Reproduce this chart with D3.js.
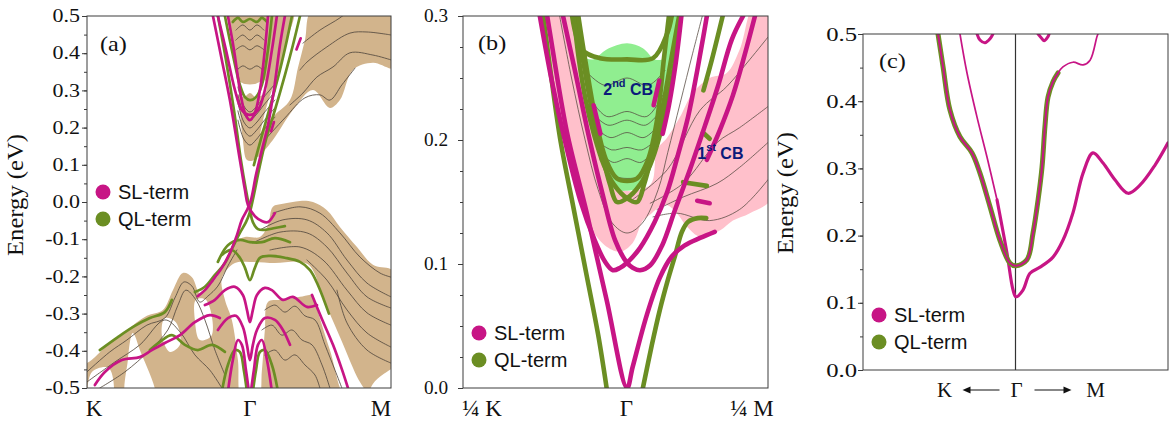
<!DOCTYPE html>
<html>
<head>
<meta charset="utf-8">
<script src="https://cdn.jsdelivr.net/npm/d3@7"></script>
<style>
  html, body { margin: 0; padding: 0; background: #ffffff; }
  svg { display: block; }
</style>
</head>
<body>
<svg id="fig" width="1170" height="421"></svg>
<script>
// ================= Panel (a): slab bands along K – Γ – M =================
// k in units of |ΓM|, energies in eV
const kPointsA = [-1.1547, 0, 1];
const kLabelsA = ["K", "Γ", "M"];
const energyTicksA = [-0.5, -0.4, -0.3, -0.2, -0.1, 0.0, 0.1, 0.2, 0.3, 0.4, 0.5];

// projected bulk continua (closed outlines)
const bulkFanA = [[-0.128,0.52],[0.305,0.52],[0.262,0.435],[0.213,0.363],[0.156,0.301],[0.121,0.261],[0.085,0.207],[0.057,0.153],[0.028,0.113],[-0.021,0.113],[-0.05,0.167],[-0.071,0.247],[-0.092,0.328],[-0.113,0.409]];
const bulkCondA = [[0.447,0.52],[1.03,0.52],[1.03,0.36],[0.872,0.374],[0.73,0.355],[0.638,0.274],[0.567,0.253],[0.447,0.301],[0.305,0.247],[0.163,0.167],[0.05,0.121],[0.085,0.194],[0.177,0.234],[0.284,0.274],[0.34,0.36],[0.39,0.435]];
const bulkValA = [[-1.2,-0.433],[-1.156,-0.433],[-0.993,-0.379],[-0.872,-0.344],[-0.73,-0.306],[-0.617,-0.29],[-0.546,-0.237],[-0.475,-0.191],[-0.411,-0.202],[-0.355,-0.245],[-0.305,-0.229],[-0.234,-0.202],[-0.163,-0.148],[-0.106,-0.108],[-0.035,-0.094],[0.071,-0.094],[0.128,-0.062],[0.163,-0.013],[0.234,-0.005],[0.355,0.003],[0.447,0],[0.546,-0.022],[0.638,-0.067],[0.759,-0.121],[0.872,-0.169],[1.03,-0.19],[1.03,-0.55],[-1.2,-0.55]];
// empty pockets inside the continua
const gapsA = [
  [[-0.199,-0.204],[-0.106,-0.164],[0,-0.161],[0.177,-0.164],[0.355,-0.161],[0.426,-0.172],[0.482,-0.237],[0.355,-0.255],[0.213,-0.263],[0.128,-0.269],[0.106,-0.344],[0.085,-0.452],[0.057,-0.53],[-0.057,-0.53],[-0.085,-0.425],[-0.128,-0.317],[-0.177,-0.263]],
  [[0.404,-0.166],[0.482,-0.228],[0.638,-0.363],[0.759,-0.47],[0.84,-0.53],[0.688,-0.53],[0.567,-0.398],[0.44,-0.237]],
  [[1.03,-0.448],[0.95,-0.462],[0.87,-0.49],[0.84,-0.53],[1.03,-0.53]],
  [[-0.83,-0.352],[-0.78,-0.398],[-0.674,-0.53],[-0.872,-0.53],[-0.865,-0.425]],
  [[-0.603,-0.312],[-0.525,-0.323],[-0.496,-0.384],[-0.567,-0.403],[-0.624,-0.358]],
  [[-0.383,-0.263],[-0.312,-0.263],[-0.27,-0.358],[-0.355,-0.371],[-0.39,-0.317]],
  [[-1.12,-0.457],[-1.0,-0.446],[-0.979,-0.53],[-1.135,-0.53]],
  [[-0.106,0.328],[-0.035,0.317],[0.035,0.317],[0.106,0.328],[0.113,0.296],[0.043,0.282],[0,0.293],[-0.043,0.282],[-0.092,0.293]]
];
// bulk-like slab bands
const bulkLinesA = [
  [[0.376,0.427],[0.496,0.462],[0.638,0.495],[0.72,0.52]],
  [[0.355,0.355],[0.404,0.376],[0.546,0.417],[0.709,0.454],[0.83,0.457],[1.0,0.449]],
  [[0.284,0.261],[0.376,0.293],[0.475,0.336],[0.589,0.363],[0.709,0.401],[0.872,0.395],[1.0,0.382]],
  [[0.106,0.167],[0.248,0.226],[0.39,0.28],[0.496,0.288],[0.567,0.274],[0.652,0.315],[0.745,0.36]],
  [[-0.099,0.462],[-0.05,0.476],[0,0.462],[0.05,0.476],[0.099,0.462]],
  [[-0.1,0.435],[-0.05,0.449],[0,0.435],[0.05,0.449],[0.1,0.435]],
  [[-0.1,0.409],[-0.05,0.42],[0,0.409],[0.05,0.42],[0.1,0.409]],
  [[-0.09,0.355],[-0.05,0.366],[0,0.357],[0.05,0.366],[0.09,0.355]],
  [[-0.085,0.309],[-0.043,0.258],[0,0.242],[0.043,0.255],[0.099,0.282],[0.177,0.317]],
  [[-0.085,0.288],[-0.043,0.237],[0,0.22],[0.043,0.234],[0.099,0.261],[0.177,0.296]],
  [[-0.085,0.266],[-0.043,0.215],[0,0.199],[0.043,0.212],[0.099,0.239],[0.177,0.274]],
  [[-0.085,0.245],[-0.043,0.194],[0,0.177],[0.043,0.191],[0.099,0.218],[0.177,0.253]],
  [[-0.085,0.22],[-0.043,0.169],[0,0.153],[0.043,0.167],[0.099,0.194],[0.177,0.228]],
  [[0.163,-0.03],[0.355,-0.013],[0.496,-0.03],[0.638,-0.083],[0.78,-0.148],[0.922,-0.191],[1.0,-0.202]],
  [[0.071,-0.075],[0.234,-0.048],[0.404,-0.048],[0.546,-0.083],[0.688,-0.156],[0.83,-0.218],[1.0,-0.255]],
  [[0.021,-0.11],[0.213,-0.081],[0.404,-0.083],[0.546,-0.121],[0.688,-0.191],[0.83,-0.255],[1.0,-0.285]],
  [[0.142,-0.129],[0.355,-0.121],[0.518,-0.156],[0.688,-0.237],[0.83,-0.298],[1.0,-0.331]],
  [[0.404,-0.156],[0.546,-0.21],[0.688,-0.29],[0.83,-0.352],[1.0,-0.39]],
  [[0.617,-0.237],[0.688,-0.325],[0.83,-0.398],[1.0,-0.433]],
  [[-1.156,-0.457],[-0.993,-0.403],[-0.872,-0.371],[-0.73,-0.331],[-0.603,-0.312],[-0.532,-0.258],[-0.468,-0.215],[-0.411,-0.226],[-0.355,-0.269],[-0.298,-0.253],[-0.227,-0.226],[-0.156,-0.172],[-0.092,-0.129]],
  [[-1.156,-0.484],[-0.957,-0.43],[-0.78,-0.384],[-0.603,-0.317],[-0.496,-0.349],[-0.39,-0.411],[-0.284,-0.452],[-0.199,-0.5]],
  [[-1.064,-0.5],[-0.887,-0.457],[-0.709,-0.398],[-0.582,-0.344],[-0.511,-0.278],[-0.454,-0.237],[-0.383,-0.263],[-0.319,-0.317],[-0.248,-0.398],[-0.177,-0.465]],
  [[0.106,-0.29],[0.177,-0.277],[0.248,-0.296],[0.319,-0.28],[0.39,-0.306],[0.461,-0.317],[0.532,-0.384],[0.603,-0.452],[0.652,-0.5]],
  [[0.085,-0.344],[0.156,-0.331],[0.227,-0.358],[0.298,-0.344],[0.369,-0.371],[0.44,-0.384],[0.511,-0.438],[0.567,-0.5]],
  [[0.106,-0.411],[0.177,-0.398],[0.248,-0.425],[0.319,-0.411],[0.39,-0.438],[0.461,-0.465],[0.496,-0.5]]
];
// bands weighted on the SL termination
const slBandsA = [
  [[-0.262,0.5],[-0.199,0.382],[-0.142,0.274],[-0.071,0.113],[-0.035,0.032],[-0.014,-0.008],[0.035,-0.038],[0.085,-0.051],[0.128,-0.054],[0.177,-0.03]],
  [[0.248,0.5],[0.213,0.422],[0.17,0.301],[0.128,0.207],[0.085,0.14],[0.043,0.073],[0.007,0.005],[-0.021,-0.022],[-0.057,-0.048],[-0.092,-0.089],[-0.142,-0.137],[-0.199,-0.177],[-0.262,-0.21],[-0.319,-0.237],[-0.369,-0.253]],
  [[-0.227,0.5],[-0.17,0.409],[-0.106,0.301],[-0.057,0.247],[0,0.234],[0.057,0.247],[0.106,0.301],[0.156,0.409],[0.191,0.5]],
  [[-0.156,0.5],[-0.113,0.409],[-0.071,0.301],[-0.035,0.239],[0,0.22],[0.035,0.239],[0.071,0.301],[0.106,0.409],[0.128,0.5]],
  [[-0.319,-0.277],[-0.248,-0.263],[-0.177,-0.237],[-0.106,-0.228],[-0.05,-0.25],[-0.021,-0.29],[0,-0.323],[0.021,-0.29],[0.05,-0.25],[0.106,-0.231],[0.156,-0.237],[0.234,-0.263],[0.305,-0.255],[0.404,-0.282],[0.475,-0.277]],
  [[-0.227,-0.344],[-0.156,-0.312],[-0.099,-0.306],[-0.05,-0.336],[-0.021,-0.384],[0,-0.425],[0.021,-0.384],[0.05,-0.344],[0.106,-0.312],[0.177,-0.317],[0.234,-0.344],[0.284,-0.384]],
  [[-0.156,-0.51],[-0.121,-0.425],[-0.085,-0.371],[-0.057,-0.384],[-0.028,-0.452],[-0.007,-0.51]],
  [[0.007,-0.51],[0.028,-0.452],[0.057,-0.384],[0.085,-0.371],[0.121,-0.425],[0.156,-0.51]],
  [[-1.099,-0.492],[-1.028,-0.457],[-0.908,-0.425],[-0.78,-0.417],[-0.695,-0.398],[-0.603,-0.379],[-0.496,-0.358],[-0.39,-0.323],[-0.284,-0.304],[-0.213,-0.312]],
  [[0.44,-0.25],[0.511,-0.315],[0.589,-0.384],[0.652,-0.45],[0.695,-0.5]],
  [[0.33,0.41],[0.36,0.44]],
  [[0.15,0.19],[0.17,0.215]]
];
// bands weighted on the QL termination
const qlBandsA = [
  [[-0.227,0.5],[-0.17,0.382],[-0.113,0.247],[-0.064,0.113],[-0.028,0.032],[0,-0.022],[0.021,-0.054],[0.057,-0.073],[0.106,-0.075],[0.177,-0.07],[0.248,-0.065]],
  [[0.355,0.5],[0.305,0.422],[0.248,0.341],[0.177,0.247],[0.113,0.167],[0.064,0.086],[0.028,0.019],[0,-0.027],[-0.028,-0.054],[-0.071,-0.083],[-0.121,-0.121],[-0.177,-0.164],[-0.248,-0.196],[-0.319,-0.228],[-0.39,-0.242]],
  [[0.298,0.5],[0.262,0.435],[0.213,0.355],[0.156,0.274],[0.106,0.207],[0.057,0.14],[0.028,0.099]],
  [[-0.177,0.5],[-0.128,0.409],[-0.071,0.315],[-0.035,0.282],[0,0.274],[0.043,0.282],[0.085,0.315],[0.128,0.409],[0.156,0.5]],
  [[-0.121,0.484],[-0.085,0.495],[-0.05,0.484],[0,0.492],[0.05,0.484],[0.085,0.495],[0.121,0.484]],
  [[-0.199,-0.142],[-0.128,-0.129],[-0.071,-0.15],[-0.035,-0.177],[0,-0.21],[0.035,-0.177],[0.071,-0.15],[0.142,-0.145],[0.248,-0.15],[0.355,-0.161],[0.426,-0.183],[0.482,-0.223],[0.56,-0.3]],
  [[-0.227,-0.161],[-0.156,-0.116],[-0.071,-0.102],[0,-0.108],[0.085,-0.108],[0.177,-0.097],[0.284,-0.108]],
  [[-1.064,-0.398],[-0.936,-0.363],[-0.816,-0.333],[-0.709,-0.312],[-0.603,-0.296],[-0.553,-0.263]],
  [[-0.709,-0.398],[-0.638,-0.376],[-0.553,-0.358],[-0.461,-0.384],[-0.369,-0.398],[-0.27,-0.384],[-0.177,-0.403]],
  [[-0.199,-0.51],[-0.156,-0.438],[-0.106,-0.398],[-0.071,-0.403],[-0.043,-0.452],[-0.021,-0.51]],
  [[0.021,-0.51],[0.043,-0.452],[0.071,-0.403],[0.106,-0.398],[0.156,-0.438],[0.199,-0.51]]
];

// ================= Panel (b): close-up around Γ =================
const kPointsB = [-0.2887, 0, 0.25];
const kLabelsB = ["¼ K", "Γ", "¼ M"];
const energyTicksB = [0.0, 0.1, 0.2, 0.3];
const secondCBFillB = [[-0.079,0.266],[-0.059,0.265],[-0.035,0.273],[0.001,0.278],[0.029,0.274],[0.05,0.265],[0.066,0.266],[0.077,0.31],[0.091,0.31],[0.08,0.265],[0.07,0.236],[0.059,0.216],[0.047,0.192],[0.036,0.17],[0.024,0.162],[0.001,0.159],[-0.024,0.161],[-0.042,0.18],[-0.056,0.216],[-0.068,0.248],[-0.075,0.26]];
const firstCBFillB = [[-0.147,0.31],[-0.103,0.31],[-0.082,0.265],[-0.065,0.224],[-0.047,0.184],[-0.011,0.16],[0.042,0.164],[0.054,0.192],[0.072,0.202],[0.095,0.219],[0.117,0.238],[0.147,0.25],[0.177,0.254],[0.2,0.273],[0.227,0.31],[0.26,0.31],[0.26,0.155],[0.218,0.141],[0.188,0.135],[0.165,0.127],[0.13,0.122],[0.107,0.13],[0.089,0.141],[0.068,0.148],[0.042,0.14],[0.029,0.135],[0.011,0.117],[-0.011,0.11],[-0.038,0.115],[-0.065,0.131],[-0.091,0.164],[-0.118,0.216],[-0.135,0.256]];
const bulkLinesB = [
  [[-0.073,0.256],[-0.038,0.244],[0.001,0.25],[0.038,0.244],[0.068,0.256]],
  [[-0.068,0.236],[-0.035,0.219],[0.001,0.223],[0.036,0.219],[0.064,0.236]],
  [[-0.065,0.224],[-0.033,0.212],[0.001,0.216],[0.034,0.212],[0.061,0.224]],
  [[-0.059,0.212],[-0.029,0.202],[0.001,0.206],[0.031,0.202],[0.057,0.212]],
  [[-0.054,0.2],[-0.026,0.192],[0.001,0.194],[0.027,0.192],[0.052,0.2]],
  [[-0.05,0.192],[-0.024,0.182],[0.001,0.185],[0.026,0.182],[0.048,0.192]],
  [[-0.047,0.184],[-0.02,0.171],[0.001,0.169],[0.024,0.171],[0.045,0.184]],
  [[-0.118,0.3],[-0.097,0.25],[-0.073,0.2],[-0.05,0.16],[-0.025,0.133],[0.001,0.125],[0.028,0.133],[0.056,0.16],[0.073,0.19],[0.095,0.23],[0.117,0.27],[0.134,0.3]],
  [[0.011,0.152],[0.072,0.176],[0.13,0.224],[0.177,0.243],[0.218,0.265],[0.25,0.283]],
  [[0.042,0.149],[0.1,0.165],[0.16,0.198],[0.2,0.21],[0.25,0.227]],
  [[0.054,0.144],[0.1,0.154],[0.16,0.165],[0.2,0.178],[0.25,0.198]],
  [[0.047,0.138],[0.089,0.141],[0.147,0.135],[0.2,0.144],[0.25,0.168]]
];
const slBandsB = [
  [[-0.14,0.3],[-0.135,0.286],[-0.105,0.206],[-0.07,0.141],[-0.035,0.071],[0.001,0],[0.011,0.017],[0.036,0.059],[0.059,0.089],[0.08,0.106],[0.103,0.115],[0.13,0.121],[0.156,0.126]],
  [[-0.153,0.3],[-0.132,0.248],[-0.109,0.2],[-0.082,0.152],[-0.056,0.119],[-0.038,0.102],[-0.024,0.095],[-0.011,0.097],[0.001,0.101],[0.024,0.113],[0.05,0.134],[0.072,0.158],[0.091,0.188],[0.109,0.219],[0.125,0.256],[0.136,0.284],[0.142,0.3]],
  [[-0.112,0.3],[-0.091,0.256],[-0.065,0.2],[-0.042,0.156],[-0.02,0.119],[0.001,0.101],[0.011,0.097],[0.024,0.095],[0.042,0.099],[0.063,0.115],[0.086,0.144],[0.112,0.176],[0.139,0.212],[0.162,0.244],[0.186,0.281],[0.206,0.3]],
  [[0.227,0.3],[0.209,0.269],[0.188,0.236],[0.165,0.208],[0.142,0.184]],
  [[0.097,0.3],[0.087,0.262],[0.075,0.228],[0.064,0.205]],
  [[-0.058,0.228],[-0.046,0.205]],
  [[0.048,0.228],[0.058,0.248]],
  [[0.125,0.151],[0.147,0.149]]
];
const qlBandsB = [
  [[-0.147,0.3],[-0.132,0.248],[-0.116,0.198],[-0.093,0.144],[-0.07,0.09],[-0.05,0.043],[-0.035,0]],
  [[0.029,0],[0.045,0.035],[0.059,0.063],[0.073,0.087],[0.086,0.107],[0.098,0.126],[0.109,0.134],[0.126,0.137],[0.141,0.137]],
  [[-0.096,0.3],[-0.079,0.273],[-0.047,0.266],[0.001,0.265],[0.047,0.266],[0.072,0.286],[0.08,0.3]],
  [[-0.091,0.3],[-0.077,0.265],[-0.061,0.224],[-0.043,0.188],[-0.029,0.164],[-0.017,0.15],[0.001,0.153],[0.024,0.164],[0.042,0.18],[0.059,0.204],[0.073,0.232],[0.086,0.265],[0.095,0.3]],
  [[-0.093,0.3],[-0.084,0.265],[-0.072,0.232],[-0.057,0.204],[-0.04,0.18],[-0.022,0.164],[0.001,0.153],[0.019,0.15],[0.031,0.164],[0.045,0.188],[0.063,0.224],[0.079,0.265],[0.093,0.3]],
  [[-0.085,0.3],[-0.073,0.265],[-0.054,0.216],[-0.036,0.184],[-0.017,0.169],[0.001,0.167],[0.019,0.169],[0.038,0.184],[0.054,0.216],[0.066,0.265],[0.075,0.3]],
  [[0.17,0.3],[0.151,0.265],[0.136,0.24]],
  [[0.1,0.166],[0.142,0.163]],
  [[0.135,0.206],[0.147,0.201]]
];
const bandNamesB = [["2", "nd", " CB"], ["1", "st", " CB"]];

// ================= Panel (c): K ← Γ → M =================
const kPointsC = [-1, 0, 1];
const kLabelsC = ["K", "Γ", "M"];
const energyTicksC = [0.0, 0.1, 0.2, 0.3, 0.4, 0.5];
const lowerArmC = [[-0.364,0.5],[-0.318,0.442],[-0.252,0.376],[-0.187,0.317],[-0.121,0.253]];
const lowerBandC = [[-0.121,0.253],[-0.056,0.174],[-0.016,0.119],[0.003,0.109],[0.049,0.119],[0.095,0.144],[0.161,0.153],[0.246,0.168],[0.311,0.193],[0.377,0.234],[0.443,0.293],[0.508,0.323],[0.574,0.308],[0.652,0.283],[0.738,0.263],[0.816,0.275],[0.915,0.305],[1.0,0.338]];
const upperBandC = [[-0.508,0.5],[-0.475,0.451],[-0.43,0.387],[-0.364,0.347],[-0.285,0.323],[-0.233,0.293],[-0.167,0.243],[-0.102,0.193],[-0.036,0.159],[0.003,0.155],[0.075,0.164],[0.115,0.204],[0.148,0.253],[0.174,0.302],[0.193,0.362],[0.213,0.406],[0.246,0.429],[0.279,0.442]];
const upperTailC = [[0.279,0.442],[0.311,0.451],[0.377,0.458],[0.443,0.454],[0.489,0.461],[0.534,0.496],[0.541,0.5]];
const topPocketsC = [
  [[-0.252,0.5],[-0.233,0.491],[-0.2,0.487],[-0.167,0.493],[-0.148,0.5]],
  [[0.148,0.5],[0.174,0.493],[0.187,0.49],[0.213,0.496],[0.22,0.5]]
];

const legendNames = ["SL-term", "QL-term"];

// ================= drawing =================
const svg = d3.select("#fig");
const SERIF = "'Liberation Serif','Times New Roman',Times,serif";
const SANS = "'Liberation Sans',Arial,Helvetica,sans-serif";
const SL = "#c71585", QL = "#6b8e23", TAN = "#d2b48c", CB2 = "#90ee90", CB1 = "#ffc0cb";
const BULK = "#554a40", AXIS = "#3c3c3c";

const xA = d3.scaleLinear().domain([kPointsA[0], kPointsA[2]]).range([87, 391]);
const yA = d3.scaleLinear().domain([-0.5, 0.5]).range([388, 16]);
const xB = d3.scaleLinear().domain([kPointsB[0], kPointsB[2]]).range([463, 768]);
const yB = d3.scaleLinear().domain([0, 0.3]).range([388, 16]);
const xC = d3.scaleLinear().domain([kPointsC[0], kPointsC[2]]).range([863, 1168]);
const yC = d3.scaleLinear().domain([0, 0.5]).range([370, 34]);

// widen serif text horizontally by a factor, keeping its anchor
function widen(sel, factor) {
  sel.each(function () {
    const w = this.getComputedTextLength();
    d3.select(this).attr("textLength", w * factor).attr("lengthAdjust", "spacingAndGlyphs");
  });
}

const defs = svg.append("defs");
function makePanel(id, x, y) {
  const [l, r] = x.range(), [b, t] = y.range();
  defs.append("clipPath").attr("id", id).append("rect")
    .attr("x", l).attr("y", t).attr("width", r - l).attr("height", b - t);
  const g = svg.append("g");
  const plot = g.append("g").attr("clip-path", `url(#${id})`);
  return { g, plot, l, r, t, b, x, y };
}
const curveOf = p => d3.line().x(d => p.x(d[0])).y(d => p.y(d[1])).curve(d3.curveCatmullRom.alpha(0.5));
const blobOf = p => d3.line().x(d => p.x(d[0])).y(d => p.y(d[1])).curve(d3.curveCatmullRomClosed.alpha(0.5));

function fills(p, polys, color) {
  p.plot.append("g").selectAll("path").data(polys).join("path")
    .attr("d", blobOf(p)).attr("fill", color).attr("stroke", "none");
}
function lines(p, arr, color, width, opacity = 1) {
  p.plot.append("g").selectAll("path").data(arr).join("path")
    .attr("d", curveOf(p)).attr("fill", "none").attr("stroke", color)
    .attr("stroke-width", width).attr("stroke-opacity", opacity)
    .attr("stroke-linecap", "round").attr("stroke-linejoin", "round");
}
function energyAxis(p, ticks, minorStep, pad, size, stretch) {
  const [lo, hi] = p.y.domain();
  const minor = d3.range(lo, hi + 1e-9, minorStep);
  const gMinor = p.g.append("g").attr("transform", `translate(${p.l},0)`)
    .call(d3.axisLeft(p.y).tickValues(minor).tickSize(3).tickFormat(""));
  const gMajor = p.g.append("g").attr("transform", `translate(${p.l},0)`)
    .call(d3.axisLeft(p.y).tickValues(ticks).tickSize(5).tickPadding(pad)
      .tickFormat(d => (Math.abs(d) < 1e-9 ? 0 : d).toFixed(1)));
  [gMinor, gMajor].forEach(g => {
    g.select(".domain").remove();
    g.selectAll("line").attr("stroke", AXIS);
  });
  gMajor.attr("font-family", SERIF).attr("font-size", size);
  gMajor.selectAll("text").attr("fill", "#111");
  widen(gMajor.selectAll("text"), stretch);
}
function frame(p) {
  p.g.append("rect").attr("x", p.l).attr("y", p.t)
    .attr("width", p.r - p.l).attr("height", p.b - p.t)
    .attr("fill", "none").attr("stroke", AXIS).attr("stroke-width", 1);
}
function legend(p, cx, cy) {
  const colors = [SL, QL];
  const g = p.g.append("g");
  legendNames.forEach((name, i) => {
    g.append("circle").attr("cx", cx).attr("cy", cy + i * 27).attr("r", 7.5).attr("fill", colors[i]);
    g.append("text").attr("x", cx + 15).attr("y", cy + i * 27 + 7)
      .attr("font-family", SANS).attr("font-size", 20).attr("fill", "#111").text(name);
  });
}
function panelTag(p, tx, ty, tag) {
  const t = p.g.append("text").attr("x", tx).attr("y", ty).attr("font-family", SERIF)
    .attr("font-size", 22).attr("fill", "#111").text(tag);
  widen(t, 1.1);
}
function energyTitle(cx, cy) {
  const t = svg.append("text").attr("transform", `translate(${cx},${cy}) rotate(-90)`)
    .attr("text-anchor", "middle").attr("font-family", SERIF).attr("font-size", 23)
    .attr("fill", "#111").text("Energy (eV)");
  widen(t, 1.07);
}
function kLabels(p, pts, labels, base, size) {
  p.g.append("g").selectAll("text").data(pts).join("text")
    .attr("x", d => p.x(d)).attr("y", base).attr("text-anchor", "middle")
    .attr("font-family", SERIF).attr("font-size", size).attr("fill", "#111")
    .text((d, i) => labels[i]);
}

// ---- panel (a)
const pA = makePanel("clipA", xA, yA);
fills(pA, [bulkFanA, bulkCondA, bulkValA], TAN);
fills(pA, gapsA, "#ffffff");
lines(pA, bulkLinesA, BULK, 1, 0.85);
lines(pA, qlBandsA, QL, 2.7);
lines(pA, slBandsA, SL, 2.7);
frame(pA);
energyAxis(pA, energyTicksA, 0.05, 2, 18, 1.22);
kLabels(pA, kPointsA, kLabelsA, 416, 23);
pA.g.selectAll("text").filter(function () { return this.textContent === "K"; }).attr("x", 94);
pA.g.selectAll("text").filter(function () { return this.textContent === "M"; }).attr("x", 381);
legend(pA, 103, 192);
panelTag(pA, 100, 51, "(a)");
energyTitle(23, 195);

// ---- panel (b)
const pB = makePanel("clipB", xB, yB);
fills(pB, [firstCBFillB], CB1);
fills(pB, [secondCBFillB], CB2);
lines(pB, bulkLinesB, BULK, 0.9, 0.85);
lines(pB, qlBandsB, QL, 4.6);
lines(pB, slBandsB, SL, 4.6);
frame(pB);
energyAxis(pB, energyTicksB, 0.025, 10, 18, 1.07);
kLabels(pB, kPointsB, kLabelsB, 416, 23);
pB.g.selectAll("text").filter(function () { return this.textContent === "¼ K"; }).attr("x", 482);
pB.g.selectAll("text").filter(function () { return this.textContent === "¼ M"; }).attr("x", 752);
legend(pB, 479, 333);
panelTag(pB, 478, 50, "(b)");
const bandNamePos = [[xB(-0.041), yB(0.236)], [xB(0.125), yB(0.185)]];
bandNamesB.forEach((parts, i) => {
  const t = pB.g.append("text").attr("x", bandNamePos[i][0]).attr("y", bandNamePos[i][1])
    .attr("font-family", SANS).attr("font-weight", "bold").attr("font-size", 16).attr("fill", "#0b1a7a");
  t.append("tspan").text(parts[0]);
  t.append("tspan").attr("dy", -8).attr("font-size", 11).text(parts[1]);
  t.append("tspan").attr("dy", 8).text(parts[2]);
});

// ---- panel (c)
const pC = makePanel("clipC", xC, yC);
pC.plot.append("line").attr("x1", xC(0)).attr("x2", xC(0)).attr("y1", yC(0.5)).attr("y2", yC(0))
  .attr("stroke", "#333").attr("stroke-width", 1.2);
lines(pC, [lowerArmC], SL, 1.7);
lines(pC, [lowerBandC], SL, 3.2);
lines(pC, [upperBandC], QL, 5);
lines(pC, [upperBandC], SL, 2);
lines(pC, [upperTailC], SL, 1.7);
lines(pC, topPocketsC, SL, 3);
frame(pC);
energyAxis(pC, energyTicksC, 0.05, 1, 19, 1.3);
const gx = xC(0);
const kc = pC.g.append("g").attr("font-family", SERIF).attr("font-size", 21).attr("fill", "#111");
kc.append("text").attr("x", gx - 71).attr("y", 397).attr("text-anchor", "middle").text(kLabelsC[0]);
kc.append("text").attr("x", gx + 1).attr("y", 397).attr("text-anchor", "middle").text(kLabelsC[1]);
kc.append("text").attr("x", gx + 80).attr("y", 397).attr("text-anchor", "middle").text(kLabelsC[2]);
[[gx - 16, gx - 53], [gx + 19, gx + 56]].forEach(([a, b]) => {
  const dir = Math.sign(b - a);
  pC.g.append("line").attr("x1", a).attr("x2", b - dir * 4).attr("y1", 390).attr("y2", 390)
    .attr("stroke", "#111").attr("stroke-width", 1.2);
  pC.g.append("path").attr("d", `M${b},390 L${b - dir * 8},386.5 L${b - dir * 8},393.5 Z`).attr("fill", "#111");
});
legend(pC, 879, 315);
panelTag(pC, 879, 68, "(c)");
energyTitle(793, 193);
</script>
</body>
</html>
